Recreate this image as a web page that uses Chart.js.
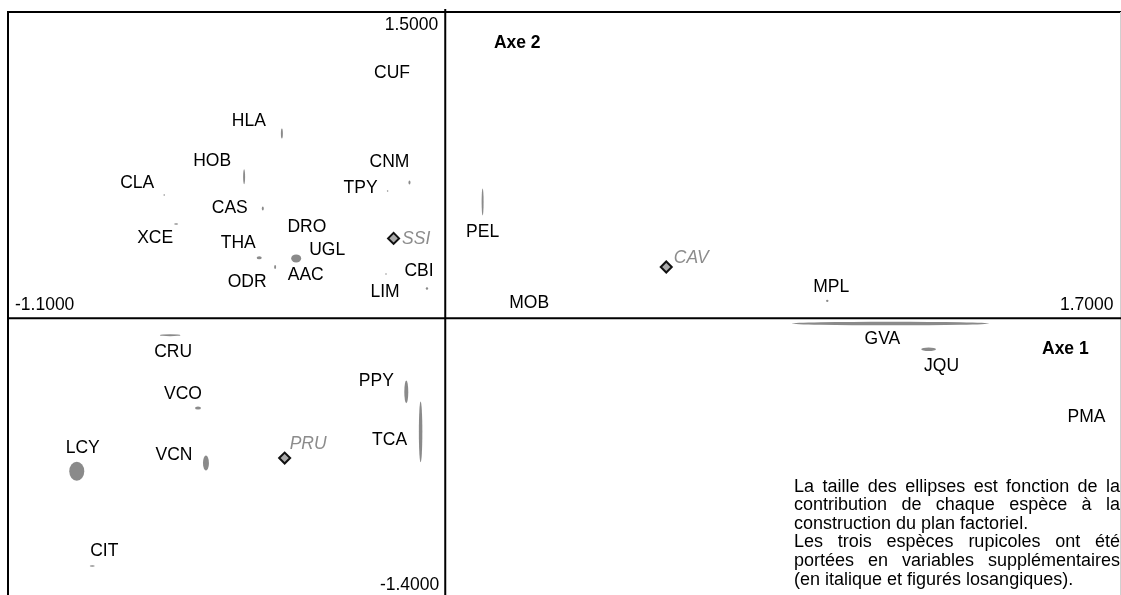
<!DOCTYPE html>
<html><head><meta charset="utf-8">
<script src="https://cdn.jsdelivr.net/npm/chart.js@4.4.1/dist/chart.umd.min.js"></script>
<style>
html,body{margin:0;padding:0;background:#fff;overflow:hidden;width:1121px;height:595px}
#wrap{width:1121px;height:595px;overflow:hidden;position:relative}
canvas{display:block}
</style></head><body>
<div id="wrap"><canvas id="c" width="1121" height="606"></canvas></div>
<script>
// ---- data ----
const species = ['CUF','HLA','HOB','CLA','CNM','TPY','CAS','XCE','DRO','THA','UGL','ODR','AAC','LIM','CBI','PEL','MOB','MPL','GVA','JQU','PMA','CRU','VCO','PPY','TCA','LCY','VCN','CIT'];
const axis1 = [-0.134,-0.411,-0.506,-0.707,-0.090,-0.145,-0.459,-0.677,-0.348,-0.468,-0.375,-0.428,-0.351,-0.149,-0.046,0.094,0.211,0.961,1.120,1.216,1.613,-0.692,-0.622,-0.098,-0.062,-0.927,-0.602,-0.888];
const axis2 = [1.200,0.905,0.693,0.603,0.665,0.623,0.538,0.461,0.445,0.296,0.293,0.251,0.211,0.216,0.146,0.570,0.075,0.085,-0.026,-0.152,-0.484,-0.083,-0.440,-0.361,-0.557,-0.750,-0.709,-1.214];
// ellipse half-axes (contribution), in axis units
const contrib1 = [0,0.0025,0.0025,0.0019,0.0025,0.0019,0.0025,0.0050,0,0.0063,0.0126,0.0025,0,0.0019,0.0030,0.0025,0,0.0030,0.248,0.0185,0,0.026,0.0075,0.0050,0.0044,0.0189,0.0075,0.0063];
const contrib2 = [0,0.0245,0.0368,0.0037,0.0098,0.0037,0.0098,0.0037,0,0.0074,0.0196,0.0098,0,0.0037,0.0060,0.066,0,0.0060,0.0086,0.0086,0,0.0049,0.0074,0.0556,0.149,0.0466,0.0368,0.0037];
// supplementary (rupicolous) species
const suppSpecies = ['SSI','CAV','PRU'];
const suppAxis1 = [-0.130,0.556,-0.404];
const suppAxis2 = [0.391,0.251,-0.685];
const xRange = [-1.1, 1.7];
const yRange = [-1.4, 1.5];
const axisNames = ['Axe 1','Axe 2'];
const noteLines = [
  ['La taille des ellipses est fonction de la', true],
  ['contribution de chaque espèce à la', true],
  ['construction du plan factoriel.', false],
  ['Les trois espèces rupicoles ont été', true],
  ['portées en variables supplémentaires', true],
  ['(en italique et figurés losangiques).', false]
];

// ---- layout (pixel offsets of labels from their point) ----
const labelOffsets = {
  CUF:[0,0],HLA:[-33,-12],HOB:[-32,-16],CLA:[-27,-12],CNM:[-20,-20],TPY:[-27,-3],CAS:[-33,0],
  XCE:[-21,14],DRO:[0,0],THA:[-21,-15],UGL:[31,-8],ODR:[-28,15],AAC:[0,0],LIM:[-1,18],CBI:[-8,-17],
  PEL:[0,30],MOB:[0,0],MPL:[4,-14],GVA:[-8,16],JQU:[13,17],PMA:[0,0],CRU:[3,17],VCO:[-15,-14],
  PPY:[-30,-11],TCA:[-31,8],LCY:[6,-23],VCN:[-32,-8],CIT:[12,-15]
};
const suppOffsets = {SSI:[8.5,1],CAV:[7.5,-9],PRU:[5,-14]};

const FONT = '"Liberation Sans", Arial, sans-serif';
const fmt = v => v.toFixed(4);

const framePlugin = {
  id:'frame',
  beforeDatasetsDraw(chart){
    const {ctx, chartArea:a, scales:{x,y}} = chart;
    const x0 = x.getPixelForValue(0), y0 = y.getPixelForValue(0);
    ctx.save();
    ctx.strokeStyle = '#000'; ctx.lineWidth = 2;
    ctx.beginPath();
    ctx.moveTo(a.left, a.bottom); ctx.lineTo(a.left, a.top); ctx.lineTo(a.right, a.top);
    ctx.moveTo(a.left, a.bottom); ctx.lineTo(a.right, a.bottom);
    ctx.stroke();
    ctx.strokeStyle = '#d0d0d0'; ctx.lineWidth = 1;
    ctx.beginPath(); ctx.moveTo(a.right-0.5, a.top); ctx.lineTo(a.right-0.5, a.bottom); ctx.stroke();
    ctx.strokeStyle = '#000'; ctx.lineWidth = 2;
    ctx.beginPath();
    ctx.moveTo(x0, a.top-3); ctx.lineTo(x0, a.bottom);
    ctx.moveTo(a.left, y0); ctx.lineTo(a.right, y0);
    ctx.stroke();
    // range labels
    ctx.fillStyle = '#000'; ctx.font = '17.5px '+FONT; ctx.textBaseline = 'middle';
    ctx.textAlign = 'right';
    ctx.fillText(fmt(yRange[1]), x0-7, a.top+13);
    ctx.fillText(fmt(yRange[0]), x0-6, 585.5);
    ctx.fillText(fmt(xRange[1]), a.right-7.5, y0-13);
    ctx.textAlign = 'left';
    ctx.fillText(fmt(xRange[0]), a.left+7, y0-13);
    // axis names
    ctx.font = 'bold 17.5px '+FONT; ctx.textAlign = 'center';
    ctx.fillText(axisNames[0], x.getPixelForValue(1.56), y0+31);
    ctx.fillText(axisNames[1], x0+72, a.top+31);
    ctx.restore();
  },
  afterDatasetsDraw(chart){
    const {ctx, scales:{x,y}} = chart;
    const meta = chart.getDatasetMeta(0);
    ctx.save();
    ctx.fillStyle = '#8a8a8a';
    meta.data.forEach((el,i)=>{
      const rx = Math.abs(x.getPixelForValue(axis1[i]+contrib1[i]) - el.x);
      const ry = Math.abs(y.getPixelForValue(axis2[i]+contrib2[i]) - el.y);
      if (rx>0 && ry>0){
        ctx.beginPath(); ctx.ellipse(el.x, el.y, Math.max(rx,0.7), Math.max(ry,0.7), 0, 0, Math.PI*2); ctx.fill();
      }
    });
    ctx.fillStyle = '#000'; ctx.font = '17.5px '+FONT; ctx.textAlign='center'; ctx.textBaseline='middle';
    meta.data.forEach((el,i)=>{
      const o = labelOffsets[species[i]];
      ctx.fillText(species[i], el.x+o[0], el.y+o[1]);
    });
    const m2 = chart.getDatasetMeta(1);
    ctx.fillStyle = '#8c8c8c'; ctx.font = 'italic 17.5px '+FONT; ctx.textAlign='left';
    m2.data.forEach((el,i)=>{
      const o = suppOffsets[suppSpecies[i]];
      ctx.fillText(suppSpecies[i], el.x+o[0], el.y+o[1]);
    });
    // note
    ctx.fillStyle = '#000'; ctx.font = '18px '+FONT; ctx.textBaseline='alphabetic';
    const L = 794, R = 1120;
    noteLines.forEach((ln,k)=>{
      const yy = 491.5 + k*18.65;
      if (!ln[1]) { ctx.fillText(ln[0], L, yy); return; }
      const words = ln[0].split(' ');
      const ws = words.map(w=>ctx.measureText(w).width);
      const gap = (R-L-ws.reduce((s,v)=>s+v,0))/(words.length-1);
      let xx = L;
      words.forEach((w,j)=>{ ctx.fillText(w, xx, yy); xx += ws[j]+gap; });
    });
    ctx.restore();
  }
};

new Chart(document.getElementById('c'), {
  type:'scatter',
  data:{
    datasets:[
      { label:'Espèces', data: axis1.map((v,i)=>({x:v,y:axis2[i]})), pointRadius:0, pointHoverRadius:0 },
      { label:'Supplémentaires', data: suppAxis1.map((v,i)=>({x:v,y:suppAxis2[i]})),
        pointStyle:'rectRot', pointRadius:5.5, pointHoverRadius:5.5,
        backgroundColor:'#ababab', borderColor:'#111', borderWidth:2 }
    ]
  },
  options:{
    responsive:false, animation:false, devicePixelRatio:1,
    layout:{autoPadding:false, padding:{left:8, top:12, right:0, bottom:2}},
    plugins:{legend:{display:false}, tooltip:{enabled:false}},
    scales:{
      x:{type:'linear', min:xRange[0], max:xRange[1], display:false},
      y:{type:'linear', min:yRange[0], max:yRange[1], display:false}
    }
  },
  plugins:[framePlugin]
});
</script>
</body></html>
